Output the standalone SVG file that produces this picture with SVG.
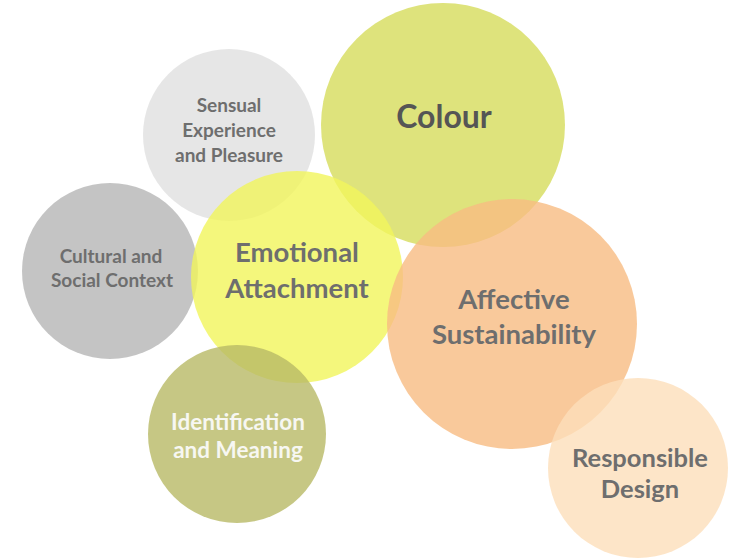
<svg xmlns="http://www.w3.org/2000/svg" width="731" height="560" viewBox="0 0 731 560">
<style>
.c{opacity:0.8}
text{font-family:Lato,"Open Sans","Liberation Sans",sans-serif;font-weight:bold;text-anchor:middle;fill:#6e6e6e}
.s{font-size:19px}
.m{font-size:27.5px}
.w{fill:#f7f7f2;font-size:22.5px}
.r{font-size:25.5px}
</style>
<rect width="731" height="560" fill="#ffffff"/>
<g id="sensual"><circle class="c" cx="229" cy="135" r="86" fill="#e0e0e0"/></g>
<g id="cultural"><circle class="c" cx="110" cy="271" r="88" fill="#b5b5b5"/></g>
<g id="colour"><circle class="c" cx="443" cy="125" r="122" fill="#d6dc5b"/></g>
<g id="emotional"><circle class="c" cx="297" cy="277" r="106" fill="#f1f55b"/></g>
<g id="affective"><circle class="c" cx="512" cy="324" r="125" fill="#f7bb82"/></g>
<g id="identification"><circle class="c" cx="237" cy="434" r="89" fill="#b8b965"/></g>
<g id="responsible"><circle class="c" cx="638" cy="468" r="90" fill="#fcdeba"/></g>
<g id="labels">
<text class="s" x="229" y="112">Sensual</text>
<text class="s" x="229" y="137">Experience</text>
<text class="s" x="229" y="162">and Pleasure</text>
<text x="444" y="128" style="font-size:32px;fill:#555">Colour</text>
<text class="s" x="111" y="263">Cultural and</text>
<text class="s" x="112" y="287">Social Context</text>
<text class="m" x="297" y="262">Emotional</text>
<text class="m" x="297" y="298">Attachment</text>
<text class="m" x="514" y="309">Affective</text>
<text class="m" x="514" y="344">Sustainability</text>
<text class="w" x="238" y="430">Identification</text>
<text class="w" x="238" y="458">and Meaning</text>
<text class="r" x="640" y="467">Responsible</text>
<text class="r" x="640" y="498">Design</text>
</g>
<g id="connectors"/>
</svg>
